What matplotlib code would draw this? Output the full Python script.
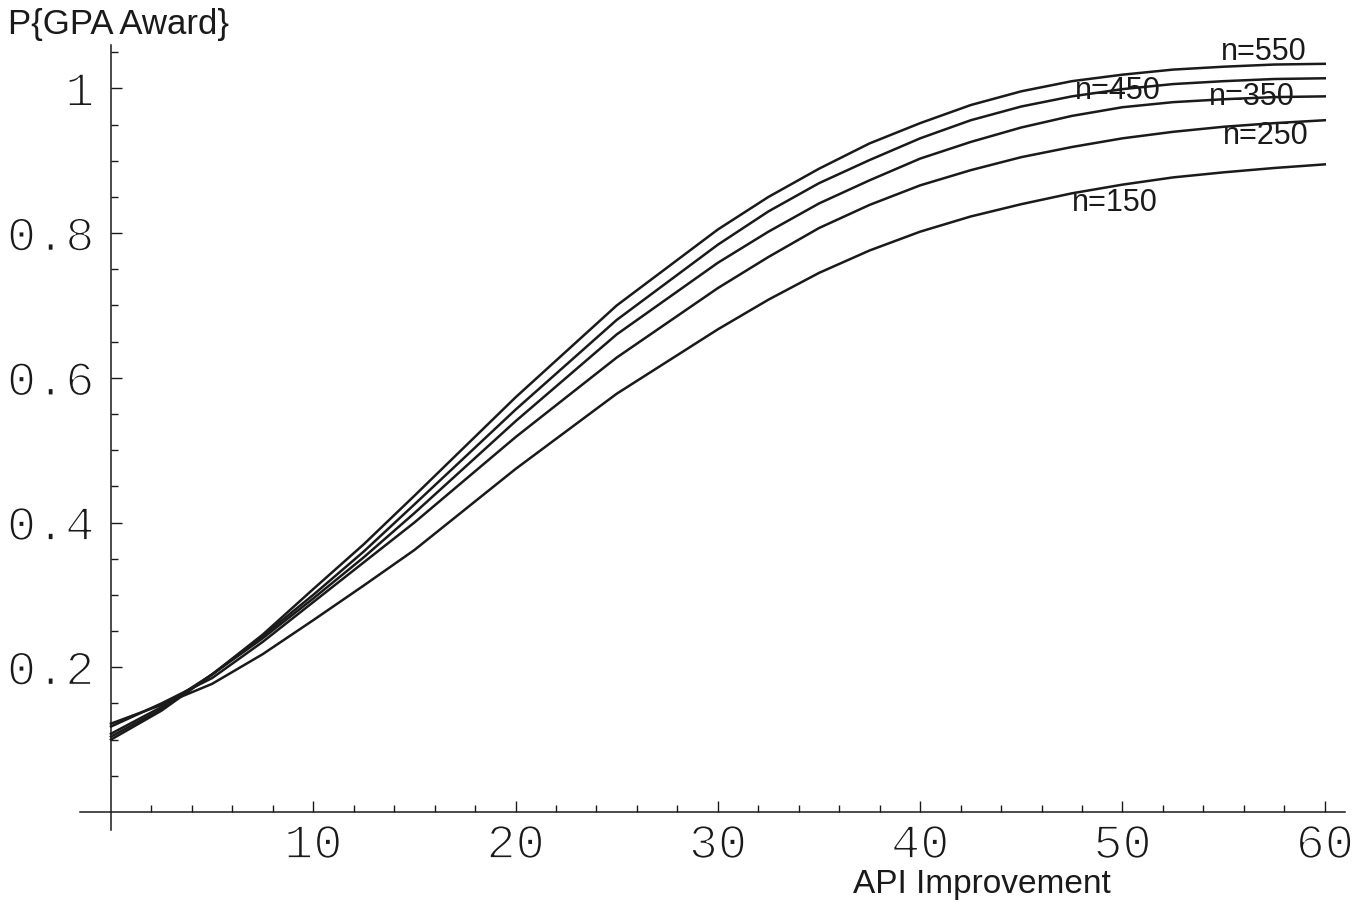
import matplotlib
matplotlib.use("Agg")
import matplotlib.pyplot as plt
import matplotlib.patheffects as pe
from matplotlib.ticker import FixedLocator

# ---- data ----
api = [0, 2.5, 5, 7.5, 10, 12.5, 15, 20, 25, 30, 32.5, 35, 37.5, 40, 42.5, 45, 47.5, 50, 52.5, 55, 57.5, 60]
p_n150 = [0.122, 0.148, 0.177, 0.218, 0.265, 0.313, 0.362, 0.474, 0.578, 0.667, 0.708, 0.745, 0.776, 0.802,
          0.823, 0.840, 0.855, 0.867, 0.877, 0.884, 0.890, 0.895]
p_n250 = [0.118, 0.150, 0.185, 0.235, 0.290, 0.345, 0.400, 0.518, 0.628, 0.724, 0.767, 0.807, 0.839, 0.866,
          0.887, 0.905, 0.919, 0.931, 0.940, 0.947, 0.952, 0.956]
p_n350 = [0.108, 0.145, 0.190, 0.240, 0.295, 0.352, 0.413, 0.540, 0.660, 0.759, 0.802, 0.841, 0.873, 0.903,
          0.926, 0.946, 0.962, 0.974, 0.981, 0.985, 0.988, 0.989]
p_n450 = [0.104, 0.142, 0.190, 0.243, 0.300, 0.360, 0.425, 0.556, 0.680, 0.784, 0.830, 0.869, 0.901, 0.931,
          0.956, 0.975, 0.989, 0.999, 1.006, 1.010, 1.013, 1.014]
p_n550 = [0.100, 0.140, 0.190, 0.245, 0.308, 0.370, 0.437, 0.573, 0.700, 0.805, 0.850, 0.889, 0.924, 0.952,
          0.977, 0.996, 1.010, 1.019, 1.026, 1.030, 1.033, 1.034]
series = [p_n150, p_n250, p_n350, p_n450, p_n550]
labels = ["n=150", "n=250", "n=350", "n=450", "n=550"]
label_pos = [(49.65, 0.841), (57.1, 0.934), (56.4, 0.988), (49.75, 0.997), (57.0, 1.050)]
xticks = [10, 20, 30, 40, 50, 60]
yticks = [0.2, 0.4, 0.6, 0.8, 1.0]
ytick_labels = ["0.2", "0.4", "0.6", "0.8", "1"]

W, H = 1369, 906
fig = plt.figure(figsize=(W / 100, H / 100), dpi=100)
ax = fig.add_axes([80 / W, 1 - 830 / H, (1345 - 80) / W, (830 - 45) / H])

ink = "#1a1a1a"
for s in series:
    ax.plot(api, s, color=ink, lw=1.8, solid_joinstyle="round")

for lab, (lx, ly) in zip(labels, label_pos):
    ax.text(lx, ly, lab, ha="center", va="center", fontsize=22,
            family="Liberation Sans", color=ink)

ax.set_xlim(-1.53, 61.0)
ax.set_ylim(-0.025, 1.060)
for side in ("top", "right"):
    ax.spines[side].set_visible(False)
ax.spines["left"].set_position(("data", 0))
ax.spines["bottom"].set_position(("data", 0))
for side in ("left", "bottom"):
    ax.spines[side].set_linewidth(1.1)
    ax.spines[side].set_color(ink)

ax.xaxis.set_major_locator(FixedLocator(xticks))
ax.xaxis.set_minor_locator(FixedLocator([x for x in range(2, 61, 2) if x % 10 != 0]))
ax.yaxis.set_major_locator(FixedLocator(yticks))
ax.yaxis.set_minor_locator(FixedLocator([round(0.05 * k, 2) for k in range(1, 22) if k % 4 != 0]))
ax.set_xticklabels([str(x) for x in xticks])
ax.set_yticklabels(ytick_labels)

ax.tick_params(axis="both", which="major", direction="in", length=8, width=1.0,
               color=ink, labelsize=35, labelcolor=ink)
ax.tick_params(axis="both", which="minor", direction="in", length=5, width=1.0, color=ink)
ax.tick_params(axis="x", which="major", pad=8)
ax.tick_params(axis="y", which="major", pad=12)
thin = [pe.Normal(), pe.Stroke(linewidth=1.3, foreground="white")]
for t in ax.get_xticklabels() + ax.get_yticklabels():
    t.set_family("Liberation Mono")
    t.set_path_effects(thin)

fig.text(8 / W, 1 - 8 / H, "P{GPA Award}", ha="left", va="top", fontsize=25,
         family="Liberation Sans", color=ink)
fig.text(853 / W, 1 - 869 / H, "API Improvement", ha="left", va="top", fontsize=24,
         family="Liberation Sans", color=ink)

fig.savefig("out.png", dpi=100, facecolor="white")
